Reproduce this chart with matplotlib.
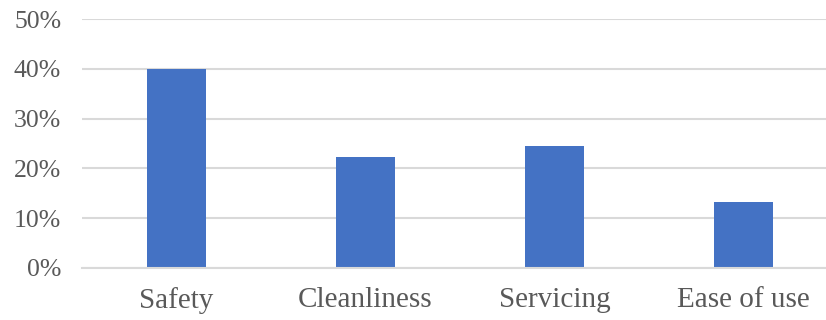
import matplotlib.pyplot as plt
from matplotlib.ticker import FuncFormatter

# Share of responses by concern
categories = ["Safety", "Cleanliness", "Servicing", "Ease of use"]
shares = [40.0, 22.2, 24.4, 13.3]
yticks = [0, 10, 20, 30, 40, 50]

plt.rcParams['font.family'] = ['Liberation Serif', 'DejaVu Serif']

fig = plt.figure(figsize=(8.26, 3.2), dpi=100)
# plot area runs off the right edge of the figure
ax = fig.add_axes([82 / 826, 52 / 320, 1 - 82 / 826, 249 / 320])

x = range(len(categories))
ax.bar(x, shares, width=0.312, color="#4472C4", zorder=3)

ax.set_xlim(-0.5, (826 - 176.5) / 189.0)
ax.set_ylim(0, 50)
ax.set_yticks(yticks)
ax.yaxis.set_major_formatter(FuncFormatter(lambda v, p: f"{v:.0f}%"))
ax.set_xticks(list(x))
ax.set_xticklabels(categories)

ax.grid(axis="y", color="#d9d9d9", linewidth=1.5, zorder=0)
for side in ["top", "right", "left"]:
    ax.spines[side].set_visible(False)
ax.spines["bottom"].set_color("#d9d9d9")
ax.spines["bottom"].set_linewidth(1.5)
ax.spines["bottom"].set_zorder(4)

ax.tick_params(axis="both", length=0, colors="#595959")
ax.tick_params(axis="y", labelsize=18.5, pad=15)
ax.tick_params(axis="x", labelsize=21, pad=14)

plt.savefig("out.png", dpi=100)
